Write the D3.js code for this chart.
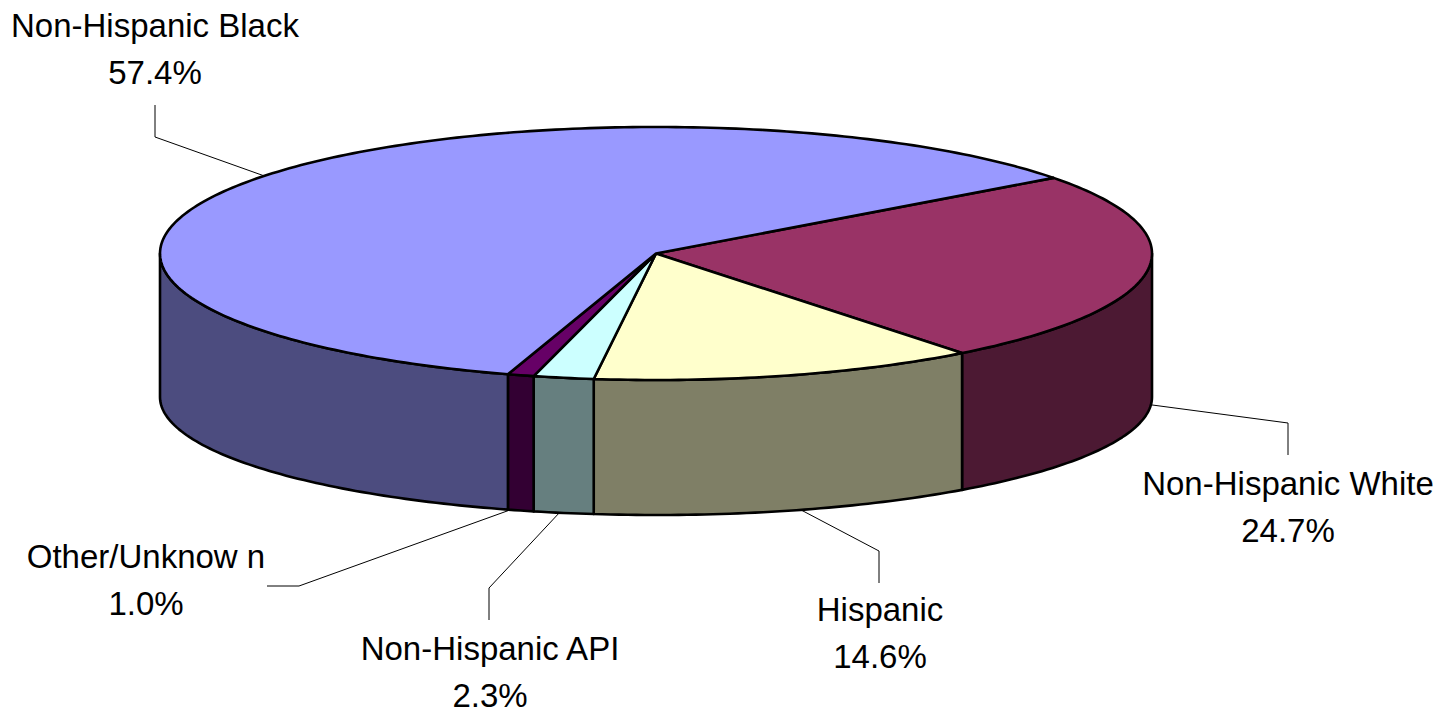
<!DOCTYPE html>
<html>
<head>
<meta charset="utf-8">
<script src="https://cdn.jsdelivr.net/npm/d3@7"></script>
<style>
    html, body { margin: 0; padding: 0; background: #fff; }
    svg { display: block; }
    .label { font-family: 'Liberation Sans', Arial, sans-serif; font-size: 33px; fill: #000; }
</style>
</head>
<body>
<svg id="svg" width="1452" height="712"></svg>
<script>
// chart data
var categories = ['Non-Hispanic White', 'Hispanic', 'Non-Hispanic API', 'Other/Unknow n', 'Non-Hispanic Black'];
var shares = [24.7, 14.6, 2.3, 1.0, 57.4];
var shareLabels = ['24.7%', '14.6%', '2.3%', '1.0%', '57.4%'];

// styles
var topColors = ['#993366', '#FFFFCC', '#CCFFFF', '#660066', '#9999FF'];
var sideColors = ['#4C1933', '#7F7F66', '#667F7F', '#330033', '#4C4C7F'];

// label layout: where the slice anchor sits, leader elbow / end, text center + first baseline
var labelLayout = [
    { frac: 0.43, face: 'bottom', elbow: [1288, 423], end: [1288, 455], x: 1288, y: 495 },
    { frac: 0.46, face: 'bottom', elbow: [879, 551], end: [879, 583], x: 880, y: 621 },
    { frac: 0.57, face: 'bottom', elbow: [489, 588], end: [489, 620], x: 490, y: 660 },
    { frac: 0.9, face: 'bottom', elbow: [299, 586], end: [267, 586], x: 146, y: 568 },
    { frac: 0.55, face: 'top', elbow: [155, 137], end: [155, 105], x: 155, y: 37 }
];

(function() {
    'use strict';

    var svg = d3.select('#svg');
    var g = svg.append('g');

    // ellipse geometry of the 3D pie
    var cx = 656, cy = 253.5, rx = 496, ry = 126.5;
    var cyB = 397, ryB = 118;          // bottom rim
    var startDeg = -43;                // first slice edge, screen degrees from +x, clockwise
    var warp = 0.15;                   // slight foreshortening like the original

    var pie = d3.pie()
        .sort(null)
        .value(function (d) { return d; })
        .startAngle((startDeg + 90) * Math.PI / 180)
        .endAngle((startDeg + 90) * Math.PI / 180 + 2 * Math.PI);

    var arcs = pie(shares);

    // pie angle (clockwise from 12 o'clock) -> ellipse parameter
    function toT(a) {
        var th = a - Math.PI / 2;
        return th + warp * Math.cos(th);
    }
    function topPt(t) { return [cx + rx * Math.cos(t), cy + ry * Math.sin(t)]; }
    function botPt(t) { return [cx + rx * Math.cos(t), cyB + ryB * Math.sin(t)]; }

    function rim(t1, t2, fn) {
        var pts = [];
        var n = Math.max(2, Math.ceil(Math.abs(t2 - t1) / (Math.PI / 180)));
        for (var i = 0; i <= n; i++) {
            pts.push(fn(t1 + (t2 - t1) * i / n));
        }
        return pts;
    }

    var line = d3.line();

    // side walls (only the front half is visible)
    g.selectAll('.side')
        .data(arcs)
        .enter()
        .append('path')
        .classed('side', true)
        .attr('d', function (d) {
            var lo = Math.max(toT(d.startAngle), 0);
            var hi = Math.min(toT(d.endAngle), Math.PI);
            if (lo >= hi) return null;
            var pts = rim(lo, hi, topPt).concat(rim(hi, lo, botPt));
            return line(pts) + 'Z';
        })
        .attr('fill', function (d, i) { return sideColors[i]; })
        .attr('stroke', '#000')
        .attr('stroke-width', 2.6)
        .attr('stroke-linejoin', 'round');

    // top faces
    g.selectAll('.top')
        .data(arcs)
        .enter()
        .append('path')
        .classed('top', true)
        .attr('d', function (d) {
            var pts = [[cx, cy]].concat(rim(toT(d.startAngle), toT(d.endAngle), topPt));
            return line(pts) + 'Z';
        })
        .attr('fill', function (d, i) { return topColors[i]; })
        .attr('stroke', '#000')
        .attr('stroke-width', 2.6)
        .attr('stroke-linejoin', 'round');

    // leader lines
    g.selectAll('.leader')
        .data(arcs)
        .enter()
        .append('path')
        .classed('leader', true)
        .attr('d', function (d, i) {
            var lay = labelLayout[i];
            var a = d.startAngle + (d.endAngle - d.startAngle) * lay.frac;
            var p = lay.face === 'top' ? topPt(toT(a)) : botPt(toT(a));
            return line([p, lay.elbow, lay.end]);
        })
        .attr('fill', 'none')
        .attr('stroke', '#000')
        .attr('stroke-width', 1);

    // labels
    var label = g.selectAll('.label')
        .data(arcs)
        .enter()
        .append('text')
        .classed('label', true)
        .attr('text-anchor', 'middle');

    label.append('tspan')
        .attr('x', function (d, i) { return labelLayout[i].x; })
        .attr('y', function (d, i) { return labelLayout[i].y; })
        .text(function (d, i) { return categories[i]; });

    label.append('tspan')
        .attr('x', function (d, i) { return labelLayout[i].x; })
        .attr('y', function (d, i) { return labelLayout[i].y + 46.5; })
        .text(function (d, i) { return shareLabels[i]; });
})();
</script>
</body>
</html>
